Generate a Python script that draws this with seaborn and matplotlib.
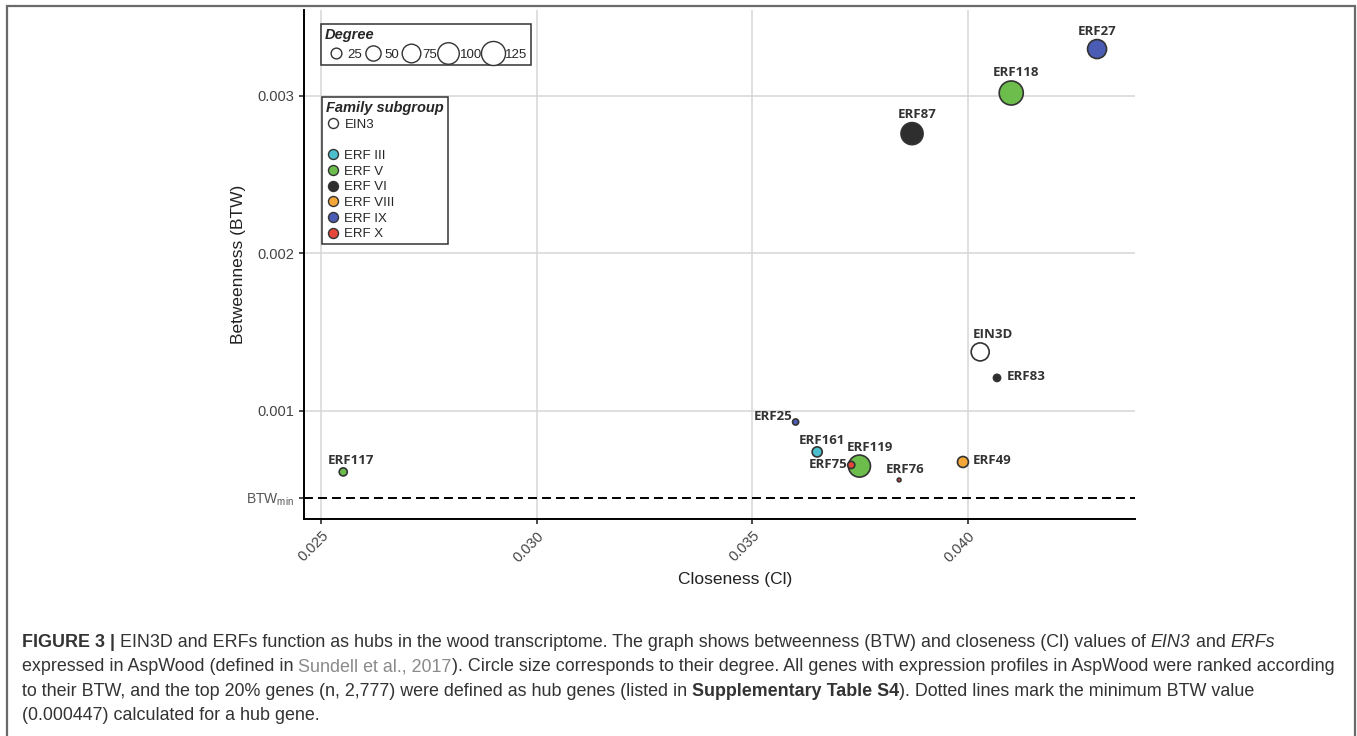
import numpy as np
import pandas as pd
import seaborn as sns
import matplotlib.pyplot as plt
from matplotlib.lines import Line2D
from matplotlib.patches import Rectangle

# data
genes = ['ERF27', 'ERF118', 'ERF87', 'EIN3D', 'ERF83', 'ERF25', 'ERF161',
         'ERF119', 'ERF75', 'ERF76', 'ERF49', 'ERF117']
closeness = [0.04299, 0.04100, 0.03870, 0.04028, 0.04067, 0.03600, 0.03650,
             0.03748, 0.03729, 0.03840, 0.03988, 0.02551]
betweenness = [0.003298, 0.003019, 0.002761, 0.001375, 0.001210, 0.000930,
               0.000740, 0.000650, 0.000657, 0.000562, 0.000676, 0.000613]
degree = [78, 125, 105, 70, 11, 8, 22, 105, 11, 3, 26, 14]
family = ['ERF IX', 'ERF V', 'ERF VI', 'EIN3', 'ERF VI', 'ERF IX', 'ERF III',
          'ERF V', 'ERF X', 'ERF X', 'ERF VIII', 'ERF V']

BTW_MIN = 0.000447
families = ['EIN3', 'ERF III', 'ERF V', 'ERF VI', 'ERF VIII', 'ERF IX', 'ERF X']
family_colors = ['#ffffff', '#4cbfcc', '#6cbd4b', '#2e2e2e', '#f5a638', '#4a5cb4', '#e5483a']
legend_degrees = [25, 50, 75, 100, 125]
x_ticks = [0.025, 0.030, 0.035, 0.040]
y_ticks = [BTW_MIN, 0.001, 0.002, 0.003]

df = pd.DataFrame({'gene': genes, 'closeness': closeness, 'btw': betweenness,
                   'degree': degree, 'family': family})
palette = dict(zip(families, family_colors))

# label placement: dx, dy in pixels (dy up), alignment
label_pos = {
    'ERF27': (0, 18, 'center'), 'ERF118': (5, 20, 'center'), 'ERF87': (5, 19, 'center'),
    'EIN3D': (-7, 17, 'left'), 'ERF83': (10, 1, 'left'), 'ERF25': (-3, 5, 'right'),
    'ERF161': (5, 11, 'center'), 'ERF119': (11, 19, 'center'), 'ERF75': (-4, 0, 'right'),
    'ERF76': (6, 10, 'center'), 'ERF49': (10, 1, 'left'), 'ERF117': (8, 11, 'center'),
}

sns.set_theme(style='whitegrid', rc={
    'grid.color': '#d6d6d6', 'grid.linewidth': 1.1,
    'xtick.bottom': True, 'ytick.left': True,
    'xtick.major.size': 3.5, 'ytick.major.size': 3.5,
    'xtick.color': '#333333', 'ytick.color': '#333333',
    'mathtext.default': 'regular',
})
plt.rcParams['font.family'] = ['Liberation Sans', 'DejaVu Sans']

W, H = 1357, 736
fig = plt.figure(figsize=(W / 100, H / 100), dpi=100)
ax = fig.add_axes([304 / W, 1 - 519 / H, (1135 - 304) / W, (519 - 10) / H])

MAX_S = 300
sns.scatterplot(data=df, x='closeness', y='btw', hue='family', palette=palette,
                size='degree', sizes=(0, MAX_S), size_norm=(0, 125),
                edgecolor='#333333', linewidth=1.2, legend=False, ax=ax, zorder=3)

ax.axhline(BTW_MIN, color='black', lw=1.4, ls=(0, (4.6, 2.6)), zorder=2)

for _, row in df.iterrows():
    dx, dy, ha = label_pos[row['gene']]
    ax.annotate(row['gene'], (row['closeness'], row['btw']),
                xytext=(dx * 0.72, dy * 0.72), textcoords='offset points',
                ha=ha, va='center', fontsize=9.5, fontweight='bold',
                family='Open Sans', color='#333333', zorder=4)

ax.set_xlim(0.0246, 0.04387)
ax.set_ylim(0.000314, 0.003546)
ax.set_xticks(x_ticks)
ax.set_xticklabels(['%.3f' % v for v in x_ticks], rotation=45, ha='right',
                   va='top', rotation_mode='anchor', fontsize=10.5, color='#444444')
ax.set_yticks(y_ticks)
ax.set_yticklabels(['BTW$_{min}$'] + ['%.3f' % v for v in y_ticks[1:]],
                   fontsize=10.5, color='#444444')
ax.get_yticklabels()[0].set_fontsize(10)
ax.get_yticklabels()[0].set_color('#555555')
ax.yaxis.get_gridlines()[0].set_visible(False)

for s in ['top', 'right']:
    ax.spines[s].set_visible(False)
for s in ['left', 'bottom']:
    ax.spines[s].set_color('black')
    ax.spines[s].set_linewidth(1.4)

ax.set_xlabel('Closeness (Cl)', fontsize=12.5, color='#222222')
ax.set_ylabel('Betweenness (BTW)', fontsize=12.5, color='#222222')
ax.xaxis.set_label_coords((735 - 304) / 831, (519 - 572) / 509)
ax.yaxis.set_label_coords((246 - 304) / 831, 0.5)

# legends
title_font = {'weight': 'bold', 'style': 'italic', 'size': 10.5}
deg_handles = [Line2D([], [], ls='none', marker='o', markersize=np.sqrt(MAX_S * d / 125),
                      mfc='white', mec='#333333', mew=1.0) for d in legend_degrees]
leg1 = ax.legend(deg_handles, [str(d) for d in legend_degrees], title='Degree', ncol=5,
                 loc='upper left', bbox_to_anchor=(321 / W, 1 - 24 / H),
                 bbox_transform=fig.transFigure, borderaxespad=0, frameon=True,
                 fancybox=False, edgecolor='#333333', framealpha=1,
                 handletextpad=0.08, columnspacing=0.05, handlelength=1.6,
                 borderpad=0.3, fontsize=9.5, title_fontproperties=title_font,
                 alignment='left')
leg1.get_frame().set_linewidth(1.1)
ax.add_artist(leg1)

fam_handles, fam_labels = [], []
for f, c in zip(families, family_colors):
    fam_handles.append(Line2D([], [], ls='none', marker='o', markersize=7.2,
                              mfc=c, mec='#333333', mew=1.0))
    fam_labels.append(f)
    if f == 'EIN3':
        fam_handles.append(Line2D([], [], ls='none'))
        fam_labels.append(' ')
leg2 = ax.legend(fam_handles, fam_labels, title='Family subgroup',
                 loc='upper left', bbox_to_anchor=(322 / W, 1 - 97 / H),
                 bbox_transform=fig.transFigure, borderaxespad=0, frameon=True,
                 fancybox=False, edgecolor='#333333', framealpha=1,
                 handletextpad=0.4, handlelength=1.0, labelspacing=0.26,
                 borderpad=0.3, fontsize=9.5, title_fontproperties=title_font,
                 alignment='left')
leg2.get_frame().set_linewidth(1.1)

# outer frame
fig.add_artist(Rectangle((7 / W, -0.05), (1355 - 7) / W, (736 - 6) / H + 0.05,
                         transform=fig.transFigure, fill=False, ec='#6a6a6a',
                         lw=1.6, clip_on=False))

# caption with mixed styles
caption = [
    [('FIGURE 3 | ', 'b'), ('EIN3D and ERFs function as hubs in the wood transcriptome. '
      'The graph shows betweenness (BTW) and closeness (Cl) values of ', 'n'),
     ('EIN3', 'i'), (' and ', 'n'), ('ERFs', 'i')],
    [('expressed in AspWood (defined in ', 'n'), ('Sundell et al., 2017', 'g'),
     ('). Circle size corresponds to their degree. All genes with expression profiles '
      'in AspWood were ranked according', 'n')],
    [('to their BTW, and the top 20% genes (n, 2,777) were defined as hub genes (listed in ', 'n'),
     ('Supplementary Table S4', 'b'), ('). Dotted lines mark the minimum BTW value', 'n')],
    [('(0.000447) calculated for a hub gene.', 'n')],
]
CAP_SIZE = 12.9
renderer = fig.canvas.get_renderer()


def seg_kw(style):
    kw = dict(fontsize=CAP_SIZE, color='#333333', family='Liberation Sans')
    if style == 'b':
        kw['weight'] = 'bold'
    elif style == 'i':
        kw['style'] = 'italic'
    elif style == 'g':
        kw['color'] = '#8a8a8a'
    return kw


def text_width(s, kw):
    t = fig.text(0, 0, s + '|', **kw)
    w1 = t.get_window_extent(renderer).width
    t.set_text('|')
    w2 = t.get_window_extent(renderer).width
    t.remove()
    return w1 - w2


for i, line in enumerate(caption):
    x = 22
    y = 647 + i * 24.4
    for txt, style in line:
        kw = seg_kw(style)
        fig.text(x / W, 1 - y / H, txt, va='baseline', ha='left', **kw)
        x += text_width(txt, kw)

fig.savefig('out.png', dpi=100)
